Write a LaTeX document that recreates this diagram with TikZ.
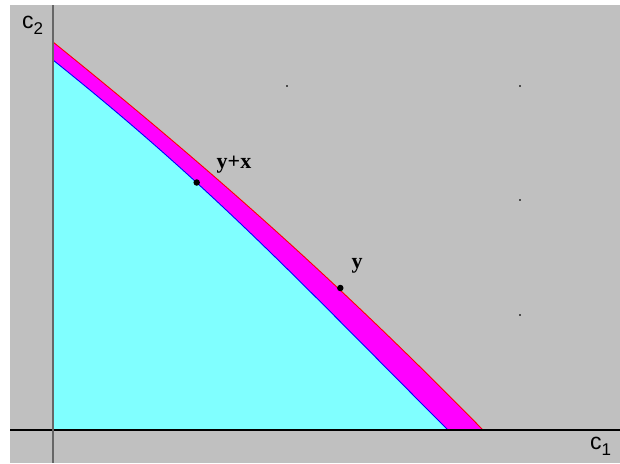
\documentclass[tikz,border=0pt]{standalone}
\usepackage{fontspec}
\setmainfont{Liberation Serif}
\setsansfont{Liberation Sans}
\definecolor{bggray}{HTML}{C0C0C0}
\definecolor{lcyan}{HTML}{80FFFF}
\definecolor{mag}{HTML}{FF00FF}
\begin{document}
\begin{tikzpicture}[x=1pt,y=-1pt,
  pt/.style={circle,fill=black,inner sep=0pt,minimum size=6.5pt},
  lab/.style={inner sep=0pt,font=\fontsize{22}{22}\selectfont\bfseries},
  axlab/.style={inner sep=0pt,font=\sffamily\fontsize{23}{23}\selectfont},
  griddot/.style={fill=black!70,inner sep=0pt,minimum size=1.2pt,rectangle}]
\useasboundingbox (0,0) rectangle (620,463);
\fill[white] (0,0) rectangle (620,463);
\fill[bggray] (10,5) rectangle (620,463);
% outer region
\fill[mag] (53,430) -- (53,42) .. controls (203,163) and (333,277) .. (483,430) -- cycle;
\draw[red,line width=0.9pt] (53,42) .. controls (203,163) and (333,277) .. (483,430);
% inner region
\fill[lcyan] (53,430) -- (53,60) .. controls (213,188) and (298,280) .. (448,430) -- cycle;
\draw[blue,line width=0.9pt] (53,60) .. controls (213,188) and (298,280) .. (448,430);
% axes
\coordinate (xa) at (10,430);
\coordinate (xb) at (620,430);
\coordinate (ya) at (53,5);
\coordinate (yb) at (53,463);
\draw[black,line width=1.4pt] (xa) -- (xb);
\draw[black!60,line width=1.6pt] (ya) -- (yb);
% grid dots
\node[griddot] (g1) at (287,86) {};
\node[griddot] (g2) at (520,86) {};
\node[griddot] (g3) at (520,200) {};
\node[griddot] (g4) at (520,315) {};
% points
\node[pt] (yx) at (196.7,182.5) {};
\node[pt] (y) at (340.3,288) {};
\node[lab] (lyx) at (234,165) {y+x};
\node[lab] (ly) at (357,266) {y};
\node[axlab,anchor=base west] (c2) at (22,28) {c\raisebox{-6pt}{\fontsize{17}{17}\selectfont 2}};
\node[axlab,anchor=base west] (c1) at (590,449) {c\raisebox{-6pt}{\fontsize{17}{17}\selectfont 1}};
\end{tikzpicture}
\end{document}
